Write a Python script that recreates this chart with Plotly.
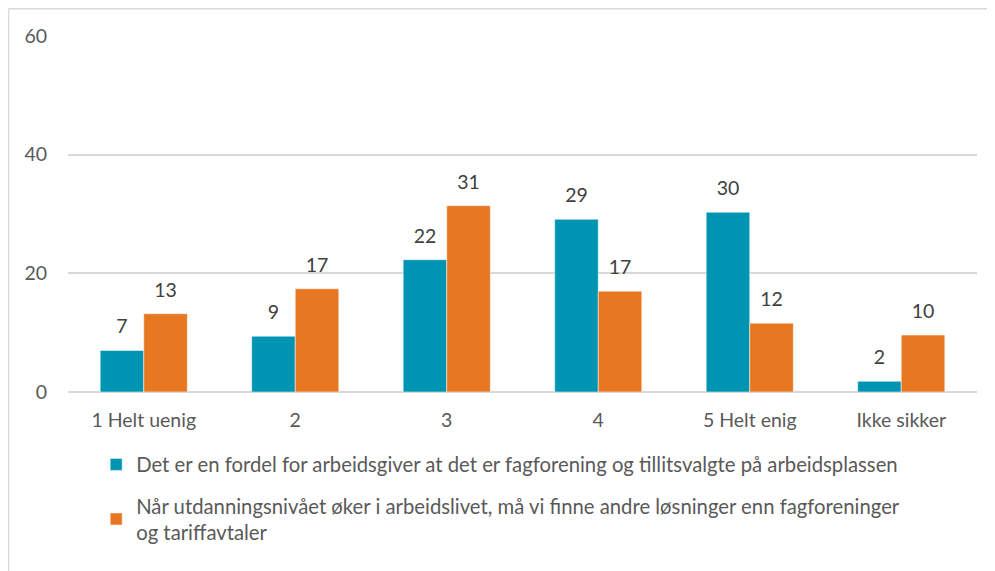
import plotly.graph_objects as go

categories = ["1 Helt uenig", "2", "3", "4", "5 Helt enig", "Ikke sikker"]
series_names = [
    "Det er en fordel for arbeidsgiver at det er fagforening og tillitsvalgte på arbeidsplassen",
    "Når utdanningsnivået øker i arbeidslivet, må vi finne andre løsninger enn fagforeninger<br>og tariffavtaler",
]
teal_values = [7.0, 9.4, 22.3, 29.1, 30.3, 1.8]
orange_values = [13.2, 17.4, 31.4, 17.0, 11.6, 9.6]
y_ticks = [0, 20, 40, 60]

colors = ["#0094B3", "#E87722"]
FONT = "Source Sans Pro, Lato, Noto Sans, sans-serif"
FS = 19.5

fig = go.Figure()
for i, (name, vals) in enumerate(zip(series_names, [teal_values, orange_values])):
    fig.add_trace(go.Bar(
        x=categories, y=vals, name=name,
        marker=dict(color=colors[i], line=dict(color="rgba(255,255,255,0.5)", width=1)),
        offsetgroup=str(i), alignmentgroup="a", legendgroup=str(i),
        hoverinfo="skip",
    ))
for i, vals in enumerate([teal_values, orange_values]):
    fig.add_trace(go.Scatter(
        x=categories, y=vals, mode="markers+text",
        text=[f"{v:.0f}" for v in vals], textposition="top center",
        textfont=dict(size=FS, color="#404040", family=FONT),
        marker=dict(size=18, opacity=0),
        offsetgroup=str(i), alignmentgroup="a",
        showlegend=False, hoverinfo="skip", cliponaxis=False,
    ))

fig.update_layout(
    width=987, height=563,
    margin=dict(l=60, r=18, t=28, b=179),
    paper_bgcolor="white", plot_bgcolor="white",
    barmode="group", bargap=0.425, bargroupgap=0,
    scattermode="group", scattergap=0.425,
    font=dict(family=FONT, size=FS, color="#595959"),
    showlegend=True,
    legend=dict(
        x=0.031, y=-0.148, xanchor="left", yanchor="top",
        orientation="v", font=dict(size=20.3, color="#595959"),
        tracegroupgap=12, bgcolor="rgba(0,0,0,0)",
    ),
    shapes=[
        dict(type="line", xref="paper", yref="paper", x0=-0.0655, x1=1.03, y0=1.0765, y1=1.0765,
             line=dict(color="#D9D9D9", width=1.5)),
        dict(type="line", xref="paper", yref="paper", x0=-0.0655, x1=-0.0655, y0=1.0765, y1=-0.6,
             line=dict(color="#D9D9D9", width=1.5)),
    ],
)
fig.update_xaxes(
    showgrid=False, showline=False, ticks="", ticklabelstandoff=14,
    tickfont=dict(size=FS, color="#595959"),
)
fig.update_yaxes(
    range=[0, 60], tickvals=y_ticks, showgrid=True, gridcolor="#D9D9D9", gridwidth=1.5,
    zeroline=True, zerolinecolor="#D9D9D9", zerolinewidth=1.5,
    showline=False, ticks="", ticklabelstandoff=20,
    tickfont=dict(size=FS, color="#595959"),
)

fig.write_html("out.html")
